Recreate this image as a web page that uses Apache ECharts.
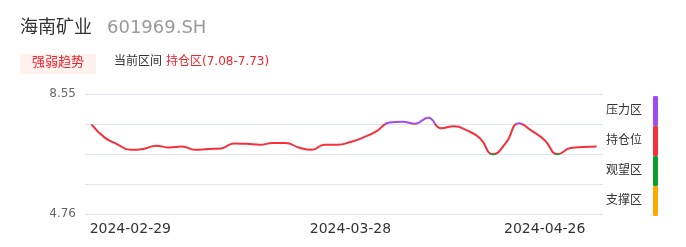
<!DOCTYPE html>
<html>
<head>
<meta charset="utf-8">
<script src="https://cdn.jsdelivr.net/npm/echarts@6/dist/echarts.min.js"></script>
<style>
html,body{margin:0;padding:0;background:#fff;}
#main{width:686px;height:247px;}
</style>
</head>
<body>
<div id="main"></div>
<script>
// ---- data ----
const stockName = '海南矿业';
const stockCode = '601969.SH';
const currentZoneText = '持仓区(7.08-7.73)';
const dates = [
  '2024-02-26','2024-02-27','2024-02-28','2024-02-29',
  '2024-03-01','2024-03-04','2024-03-05','2024-03-06','2024-03-07','2024-03-08',
  '2024-03-11','2024-03-12','2024-03-13','2024-03-14','2024-03-15',
  '2024-03-18','2024-03-19','2024-03-20','2024-03-21','2024-03-22',
  '2024-03-28',
  '2024-03-29','2024-04-01','2024-04-02','2024-04-03','2024-04-08','2024-04-09',
  '2024-04-10','2024-04-11','2024-04-12','2024-04-15','2024-04-16','2024-04-17',
  '2024-04-18','2024-04-19',
  '2024-04-26',
  '2024-04-29','2024-04-30','2024-05-06','2024-05-07'
];
const shownDates = ['2024-02-29','2024-03-28','2024-04-26'];
const prices = [
  7.72, 7.44, 7.29, 7.17, 7.19, 7.26, 7.22, 7.24, 7.17, 7.19,
  7.20, 7.31, 7.30, 7.28, 7.32, 7.32, 7.22, 7.17, 7.28, 7.28,
  7.34, 7.44, 7.57, 7.77, 7.79, 7.74, 7.90, 7.64, 7.68, 7.59,
  7.42, 7.07, 7.32, 7.75, 7.58, 7.38, 7.07, 7.21, 7.23, 7.24
];
// zone boundaries (low -> high) and zone names
const zoneBounds = [4.76, 5.92, 7.08, 7.73, 8.55];
const zoneNames = ['支撑区', '观望区', '持仓位', '压力区'];
const zoneColors = ['#FFA800', '#0A9E2A', '#F5303A', '#9E4CF2'];

// each zone occupies one equal band on the axis
function toBand(v) {
  for (let i = 0; i < zoneBounds.length - 1; i++) {
    if (v <= zoneBounds[i + 1]) {
      return i + (v - zoneBounds[i]) / (zoneBounds[i + 1] - zoneBounds[i]);
    }
  }
  return zoneBounds.length - 1;
}

const chart = echarts.init(document.getElementById('main'), null, {renderer: 'canvas'});
const FONT = "'DejaVu Sans', 'Noto Sans CJK SC', sans-serif";

const option = {
  animation: false,
  backgroundColor: '#fff',
  textStyle: {fontFamily: FONT},
  grid: {left: 85, right: 83, top: 94, bottom: 33, containLabel: false},
  xAxis: {
    type: 'category',
    data: dates,
    boundaryGap: true,
    axisLine: {show: false},
    axisTick: {show: false},
    axisLabel: {
      interval: function (i, v) { return shownDates.indexOf(v) >= 0; },
      color: '#333',
      fontSize: 14,
      fontFamily: FONT,
      margin: 8
    },
    splitLine: {show: false}
  },
  yAxis: {
    type: 'value',
    min: 0,
    max: zoneBounds.length - 1,
    interval: 1,
    axisLine: {show: false},
    axisTick: {show: false},
    axisLabel: {
      color: '#666',
      fontSize: 12,
      fontFamily: FONT,
      margin: 9,
      formatter: function (v) {
        if (v === 0) return zoneBounds[0].toFixed(2);
        if (v === zoneBounds.length - 1) return zoneBounds[zoneBounds.length - 1].toFixed(2);
        return '';
      }
    },
    splitLine: {lineStyle: {color: '#E0E6F1', width: 1}}
  },
  visualMap: {
    type: 'piecewise',
    show: true,
    seriesIndex: 0,
    dimension: 1,
    orient: 'vertical',
    right: 13,
    top: 81,
    itemWidth: 5,
    itemHeight: 30,
    itemGap: 0,
    textGap: 11,
    align: 'right',
    selectedMode: false,
    textStyle: {color: '#333', fontSize: 12, fontFamily: FONT},
    pieces: [
      {gte: 0, lt: 1, label: zoneNames[0], color: zoneColors[0]},
      {gte: 1, lt: 2, label: zoneNames[1], color: zoneColors[1]},
      {gte: 2, lt: 3, label: zoneNames[2], color: zoneColors[2]},
      {gte: 3, lte: 4, label: zoneNames[3], color: zoneColors[3]}
    ]
  },
  series: [{
    type: 'line',
    data: prices.map(toBand),
    smooth: true,
    symbol: 'none',
    lineStyle: {width: 2}
  }],
  graphic: [
    {type: 'text', left: 20, top: 19, style: {text: stockName, fill: '#333', font: '18px ' + FONT}},
    {type: 'text', left: 107, top: 19, style: {text: stockCode, fill: '#999', font: '18px ' + FONT}},
    {type: 'rect', left: 20, top: 54, shape: {width: 76, height: 20}, style: {fill: '#FFF1EE'}},
    {type: 'text', left: 32, top: 56, style: {text: '强弱趋势', fill: '#F5222D', font: '13px ' + FONT}},
    {type: 'text', left: 114, top: 56, style: {text: '当前区间', fill: '#333', font: '12px ' + FONT}},
    {type: 'text', left: 166, top: 56, style: {text: currentZoneText, fill: '#F5222D', font: '12px ' + FONT}}
  ]
};
chart.setOption(option);
</script>
</body>
</html>
